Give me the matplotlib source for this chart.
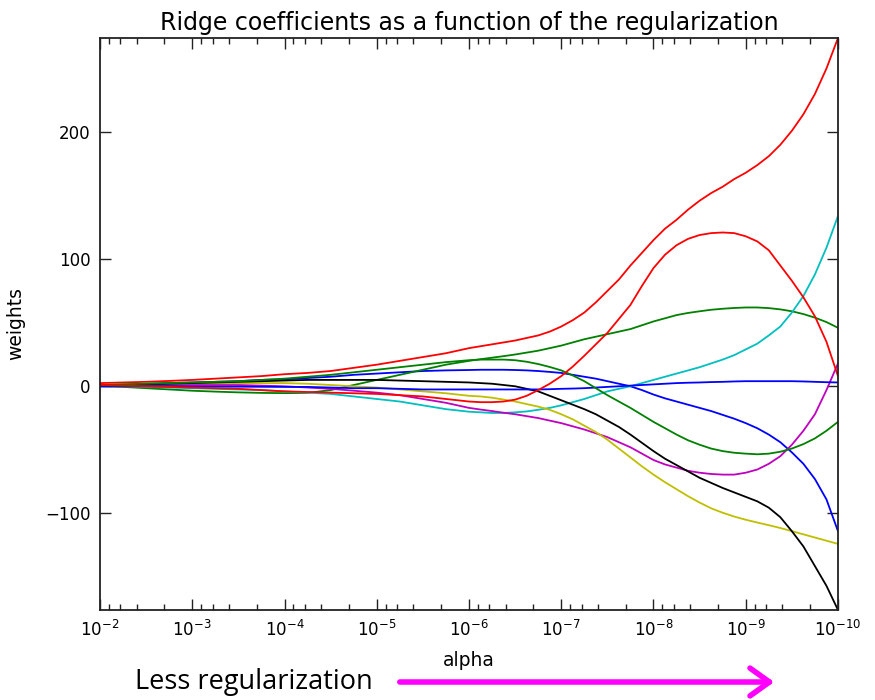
import matplotlib
matplotlib.use("Agg")
import numpy as np
import matplotlib.pyplot as plt
from matplotlib.patches import FancyArrowPatch
from matplotlib.ticker import LogLocator, NullFormatter

# exponents of alpha where the curves were read off (10^-2 ... 10^-10),
# read more densely on the right where the paths bend a lot
log_alpha = [-2.0, -2.25, -2.5, -2.75, -3.0, -3.25, -3.5, -3.75, -4.0,
             -4.25, -4.5, -4.75, -5.0, -5.25, -5.5, -5.75, -6.0,
             -6.125, -6.25, -6.375, -6.5, -6.625, -6.75, -6.875, -7.0,
             -7.125, -7.25, -7.375, -7.5, -7.625, -7.75, -7.875, -8.0,
             -8.125, -8.25, -8.375, -8.5, -8.625, -8.75, -8.875, -9.0,
             -9.125, -9.25, -9.375, -9.5, -9.625, -9.75, -9.875, -10.0]

# coefficient paths, in the colour order b, g, r, c, m, y, k, b, g, r
coef_b1 = [1, 1.5, 2, 2.5, 3, 3.5, 4, 5, 5.5, 6.5, 7.5, 9, 10, 11, 12, 12.5, 12.8,
           13, 13, 13, 12.8, 12.5, 12, 11.3, 10.5, 9, 7.5, 6, 4, 2, 0, -3, -6.5,
           -9.5, -12, -14.5, -17, -19.5, -22.5, -25.5, -29, -33, -38, -44, -52, -61, -73, -89, -114]
coef_g1 = [0, -0.5, -1.5, -2.5, -3.5, -4.2, -4.8, -5.2, -5.4, -5.2, -3, 1, 5, 9, 13, 17, 20,
           21.3, 22.5, 23.7, 25, 26.5, 28, 30, 32, 34.5, 37, 39, 41, 43, 45, 48, 51,
           53.5, 56, 57.7, 59, 60.2, 61, 61.6, 62, 62, 61.5, 60.5, 59, 56.8, 54, 50.5, 46]
coef_r1 = [2.5, 3, 3.5, 4.2, 5, 6, 7, 8, 9.5, 10.5, 12, 14.5, 17, 20, 23, 26, 30,
           31.5, 33, 34.5, 36, 38, 40, 43, 47, 52, 58, 66, 75, 84, 95, 105, 115,
           124, 131, 139, 146, 152, 157, 163, 168, 174, 181, 190, 201, 214, 230, 250, 274]
coef_c = [0, 0, -0.5, -1, -1.5, -2, -2.5, -3, -4, -5, -6, -8, -10, -12, -15, -18, -20,
          -20.5, -21, -21, -20.5, -19.8, -18.5, -17, -15, -12.5, -10, -7, -4, -2, 0, 2.5, 5,
          7.5, 10, 12.5, 15, 18, 21, 24.5, 29, 33.5, 40, 47, 58, 71, 88, 109, 134]
coef_m = [1, 1, 1, 1, 1, 1, 1, 0.5, 0, -1, -2, -3.5, -5, -7, -10, -13, -17,
          -18.3, -19.5, -20.8, -22, -23.5, -25, -27, -29, -31.5, -34, -37, -40, -44, -48, -53, -58,
          -61.5, -64, -66.5, -68, -69, -69.5, -69.5, -68, -65.5, -61, -55, -46, -35, -22, -3, 18]
coef_y = [1, 1.5, 2, 2, 2.5, 2.5, 2.5, 2.5, 2.5, 2, 1, 0, -1, -2.5, -4, -5.5, -7.5,
          -8, -9, -10.5, -12, -14, -16, -18.5, -22, -26, -31, -36, -42, -49, -56, -63, -69.5,
          -75.5, -81, -86.5, -91.5, -96, -99.5, -102.5, -105, -107.2, -109.3, -111.5, -114, -116.5, -119, -121.5, -124]
coef_k = [0.5, 1, 1.5, 2, 2.5, 3, 3.5, 4, 4.5, 5, 5, 5, 5, 4.5, 4, 3.5, 3,
          2.5, 2, 1, 0, -2, -4, -7.5, -11, -14.5, -18, -22, -27, -32, -38, -44.5, -51,
          -57, -62, -67, -72, -76, -80, -83.5, -87, -90.5, -95.5, -103, -114, -126, -141.5, -157, -176]
coef_b2 = [0, 0, 0, 0, -0.2, -0.3, -0.3, -0.4, -0.5, -0.5, -1, -1.5, -1.5, -2, -2.5, -2.5, -2.5,
           -2.5, -2.5, -2.5, -2.5, -2.5, -2.5, -2.3, -2, -1.8, -1.5, -1, -0.5, 0, 0.5, 1, 1.5,
           2, 2.5, 2.8, 3, 3.3, 3.5, 3.8, 4, 4, 4, 4, 4, 3.8, 3.5, 3.2, 3]
coef_g2 = [1, 1.5, 2, 2.5, 3, 3.5, 4, 5, 6, 7.5, 9, 11, 13, 15, 17, 19, 20.5,
           21, 21, 21, 20.5, 19.3, 17.5, 15.2, 12.5, 8.5, 4, -1.5, -7, -12, -17, -22.5, -28,
           -33, -38, -42.5, -46, -49, -51, -52.3, -53, -53.5, -53, -51.5, -49, -45.5, -41, -35, -28]
coef_r2 = [1, 0.5, 0, -0.5, -1, -1.5, -2, -3, -4, -4.5, -5, -5.5, -6, -7, -8, -10, -12,
           -12.5, -12.5, -12, -10.5, -7.5, -3, 2, 8, 15.5, 24, 33, 42, 53, 64, 79, 93,
           103.5, 111, 116, 119, 120.5, 121, 120.5, 118, 114, 107, 95, 83, 70, 55, 35, 8]

paths = [coef_b1, coef_g1, coef_r1, coef_c, coef_m, coef_y, coef_k,
         coef_b2, coef_g2, coef_r2]
colors = ["b", "g", "r", "c", "m", "y", "k", "b", "g", "r"]

alphas = 10.0 ** np.array(log_alpha)

fig = plt.figure(figsize=(8.75, 7), dpi=100, facecolor="white")
ax = fig.add_axes([0.1143, 0.1286, 0.8434, 0.8171])

for vals, col in zip(paths, colors):
    ax.plot(alphas, vals, color=col, lw=1.3, solid_joinstyle="round")

ax.set_xscale("log")
ax.set_xlim(alphas[0], alphas[-1])
all_vals = np.concatenate([np.array(p, dtype=float) for p in paths])
ax.set_ylim(all_vals.min(), all_vals.max())
ax.set_yticks([-100, 0, 100, 200])
ax.xaxis.set_minor_locator(LogLocator(base=10, subs=[2, 4, 6, 8], numticks=50))
ax.xaxis.set_minor_formatter(NullFormatter())

ax.tick_params(which="both", direction="in", top=True, right=True,
               labelsize=12, pad=7, colors="#222222", labelcolor="black")
ax.tick_params(which="major", length=8, width=1)
ax.tick_params(which="minor", length=4, width=1)
for s in ax.spines.values():
    s.set_linewidth(1.3)
    s.set_color("#222222")

ax.set_xlabel("alpha", fontsize=13.5, labelpad=8)
ax.set_ylabel("weights", fontsize=13.5, labelpad=14)
ax.set_title("Ridge coefficients as a function of the regularization",
             fontsize=17, pad=6)

# annotation below the axes
fig.text(135 / 875, 1 - 682 / 700, "Less regularization", family="Open Sans",
         fontsize=19.5, va="center", ha="left")
arrow = FancyArrowPatch((397 / 875, 1 - 682 / 700), (777 / 875, 1 - 682 / 700),
                        transform=fig.transFigure,
                        arrowstyle="->,head_length=0.7,head_width=0.5",
                        mutation_scale=20, color="#ff00ff", lw=4)
fig.add_artist(arrow)

fig.savefig("out.png", dpi=100, facecolor="white")
